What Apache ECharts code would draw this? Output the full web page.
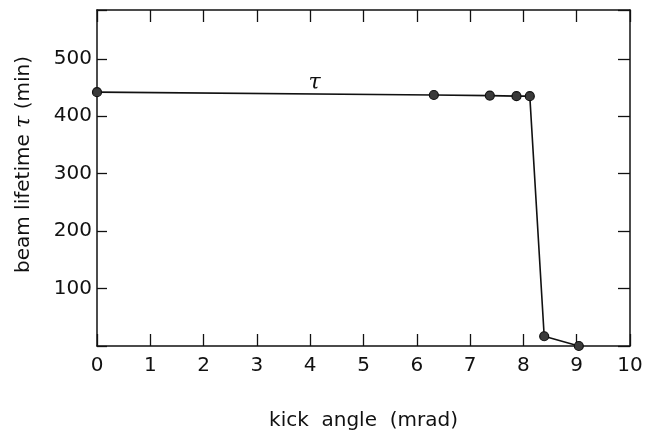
<!DOCTYPE html>
<html>
<head>
<meta charset="utf-8">
<script src="https://cdn.jsdelivr.net/npm/echarts@6/dist/echarts.min.js"></script>
<style>
  html, body { margin: 0; padding: 0; background: #fff; }
  #chart { width: 653px; height: 432px; }
</style>
</head>
<body>
<div id="chart"></div>
<script>
// Measured beam lifetime versus kicker angle
const kickAngle = [0, 6.32, 7.37, 7.87, 8.12, 8.39, 9.04];
const lifetime  = [442, 437, 436, 435, 435, 17, 0];

// Axis tick labels
const xTickLabels = [0, 1, 2, 3, 4, 5, 6, 7, 8, 9, 10];
const yTickLabels = [100, 200, 300, 400, 500];

const xMin = 0, xMax = 10, xStep = 1;
const yMin = 0, yMax = 585, yStep = 100;

const ink = '#111';
const sansFont = '"DejaVu Sans", "Liberation Sans", sans-serif';
const serifFont = '"DejaVu Serif", "Liberation Serif", serif';

const chart = echarts.init(document.getElementById('chart'), null, { renderer: 'canvas' });

const frameLine = { show: true, onZero: false, lineStyle: { color: ink, width: 1.5 } };

chart.setOption({
  animation: false,
  backgroundColor: '#fff',
  grid: { left: 97, right: 23, top: 10, bottom: 86, containLabel: false, outerBoundsMode: 'none' },
  xAxis: [
    {
      type: 'value', position: 'bottom', min: xMin, max: xMax, interval: xStep,
      axisLine: frameLine,
      axisTick: { show: true, inside: true, length: 12, lineStyle: { color: ink, width: 1.3 } },
      axisLabel: {
        margin: 10, color: ink, fontFamily: sansFont, fontSize: 20,
        formatter: v => (xTickLabels.indexOf(v) >= 0 ? String(v) : '')
      },
      splitLine: { show: false },
      name: 'kick  angle  (mrad)', nameLocation: 'middle', nameGap: 65,
      nameTextStyle: { color: ink, fontFamily: sansFont, fontSize: 20 }
    },
    {
      type: 'value', position: 'top', min: xMin, max: xMax, interval: xStep,
      axisLine: frameLine,
      axisTick: { show: true, inside: true, length: 12, lineStyle: { color: ink, width: 1.3 } },
      axisLabel: { show: false },
      splitLine: { show: false }
    }
  ],
  yAxis: [
    {
      type: 'value', position: 'left', min: yMin, max: yMax, interval: yStep,
      axisLine: frameLine,
      axisTick: { show: true, inside: true, length: 10, lineStyle: { color: ink, width: 1.3 } },
      axisLabel: {
        margin: 5, color: ink, fontFamily: sansFont, fontSize: 20,
        formatter: v => (yTickLabels.indexOf(v) >= 0 ? String(v) : '')
      },
      splitLine: { show: false },
      name: '{t|beam lifetime }{g|τ}{t| (min)}', nameLocation: 'middle', nameGap: 62, nameRotate: 90,
      nameTextStyle: {
        color: ink,
        padding: [0, 0, 0, 27],
        rich: {
          t: { fontFamily: sansFont, fontSize: 20, color: ink },
          g: { fontFamily: serifFont, fontStyle: 'italic', fontSize: 22, color: ink }
        }
      }
    },
    {
      type: 'value', position: 'right', min: yMin, max: yMax, interval: yStep,
      axisLine: frameLine,
      axisTick: { show: true, inside: true, length: 12, lineStyle: { color: ink, width: 1.3 } },
      axisLabel: { show: false },
      splitLine: { show: false }
    }
  ],
  series: [
    {
      type: 'line',
      xAxisIndex: 0, yAxisIndex: 0,
      data: kickAngle.map((x, i) => [x, lifetime[i]]),
      clip: false,
      symbol: 'circle', symbolSize: 9,
      itemStyle: { color: '#3a3a3a', borderColor: ink, borderWidth: 1.2 },
      lineStyle: { color: ink, width: 1.6 },
      markPoint: {
        symbol: 'circle', symbolSize: 0,
        data: [{ coord: [4.08, 457], value: 'τ' }],
        label: {
          show: true, position: 'inside', formatter: 'τ',
          color: ink, fontFamily: serifFont, fontStyle: 'italic', fontSize: 22
        }
      }
    }
  ]
});
</script>
</body>
</html>
